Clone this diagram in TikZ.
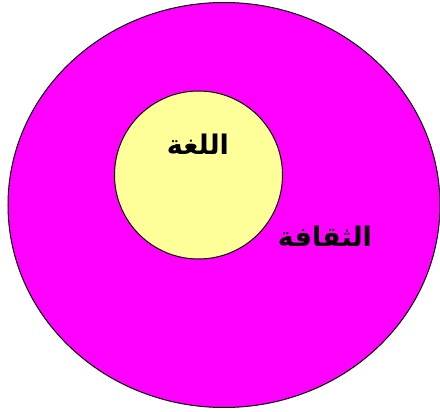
\documentclass[tikz,border=0pt]{standalone}
\usepackage{fontspec}
\usepackage{xcolor}
\usepackage{tikz}
\usetikzlibrary{shapes.geometric}
\TeXXeTstate=1
\newfontfamily\arabicfont[Script=Arabic]{DejaVu Sans}
\definecolor{culturepink}{RGB}{255,0,255}
\definecolor{languageyellow}{RGB}{255,255,153}

\begin{document}
\begin{tikzpicture}[
    x=1pt, y=-1pt,
    ring/.style={draw, line width=1pt, inner sep=0pt},
    word/.style={font=\arabicfont\bfseries\fontsize{27}{30}\selectfont, inner sep=0pt}
]
    \useasboundingbox (0,0) rectangle (440,412);

    % Circles
    \node[ring, ellipse, fill=culturepink, minimum width=432pt, minimum height=405pt] (culture) at (224,205) {};
    \node[ring, circle, fill=languageyellow, minimum size=168pt] (language) at (198.5,175) {};

    % Labels
    \node[word] (languagetext) at (198,144) {\beginR اللغة\endR};
    \node[word] (culturetext) at (325,236) {\beginR الثقافة\endR};
\end{tikzpicture}
\end{document}
